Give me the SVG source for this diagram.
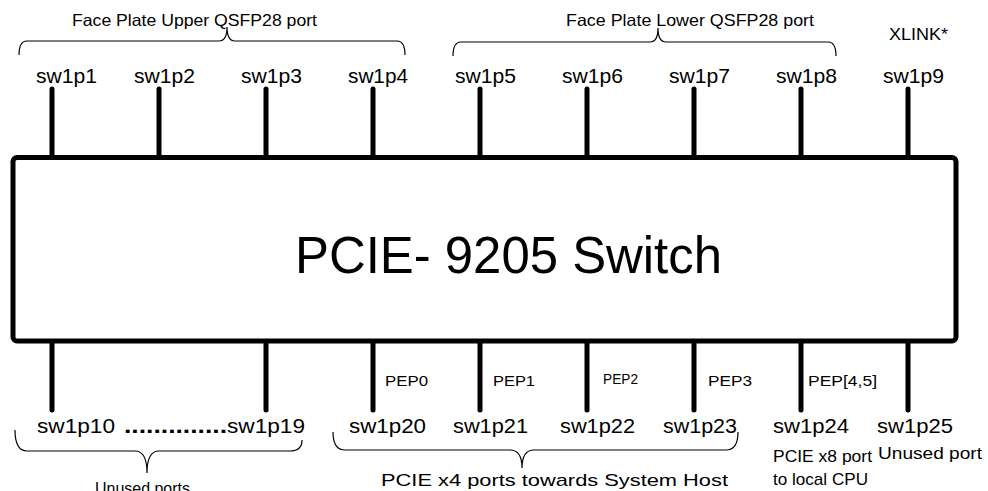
<svg xmlns="http://www.w3.org/2000/svg" width="988" height="491" viewBox="0 0 988 491">
<style>
text{font-family:"Liberation Sans",Arial,sans-serif;fill:#000}
.port{font-size:20.5px}
.sm{font-size:16.5px}
.desc{font-size:17px}
.pep{font-size:15.5px}
.big{font-size:52px}
.pin{stroke:#000;stroke-width:5;stroke-linecap:round;fill:none}
.brace{stroke:#000;stroke-width:1.2;fill:none}
</style>
<rect width="988" height="491" fill="#fff"/>
<g id="connectors">
<line class="pin" x1="52" y1="89" x2="52" y2="157"/>
<line class="pin" x1="159" y1="89" x2="159" y2="157"/>
<line class="pin" x1="266" y1="89" x2="266" y2="157"/>
<line class="pin" x1="373" y1="89" x2="373" y2="157"/>
<line class="pin" x1="480" y1="89" x2="480" y2="157"/>
<line class="pin" x1="587" y1="89" x2="587" y2="157"/>
<line class="pin" x1="694" y1="89" x2="694" y2="157"/>
<line class="pin" x1="801" y1="89" x2="801" y2="157"/>
<line class="pin" x1="908" y1="89" x2="908" y2="157"/>
<line class="pin" x1="52" y1="341" x2="52" y2="410"/>
<line class="pin" x1="266" y1="341" x2="266" y2="410"/>
<line class="pin" x1="373" y1="341" x2="373" y2="410"/>
<line class="pin" x1="480" y1="341" x2="480" y2="410"/>
<line class="pin" x1="587" y1="341" x2="587" y2="410"/>
<line class="pin" x1="694" y1="341" x2="694" y2="410"/>
<line class="pin" x1="801" y1="341" x2="801" y2="410"/>
<line class="pin" x1="908" y1="341" x2="908" y2="410"/>
</g>
<g id="switch">
<rect x="13" y="157.5" width="943" height="183.5" rx="4" fill="#fff" stroke="#000" stroke-width="5"/>
<text class="big" x="295" y="273" textLength="427" lengthAdjust="spacingAndGlyphs">PCIE- 9205 Switch</text>
</g>
<g id="upper-group">
<path class="brace" d="M19,55 Q19,41 27,41 L219,41 Q227,41 227,27 Q227,41 235,41 L397,41 Q405,41 405,55"/>
<text class="sm" x="72" y="26" textLength="245" lengthAdjust="spacingAndGlyphs">Face Plate Upper QSFP28 port</text>
</g>
<g id="lower-group">
<path class="brace" d="M453,56 Q453,42 461,42 L650,42 Q658,42 658,28 Q658,42 666,42 L828,42 Q836,42 836,56"/>
<text class="sm" x="566" y="26" textLength="248" lengthAdjust="spacingAndGlyphs">Face Plate Lower QSFP28 port</text>
</g>
<g id="xlink">
<text class="sm" x="889" y="40" textLength="59" lengthAdjust="spacingAndGlyphs">XLINK*</text>
</g>
<g id="top-ports">
<text class="port" x="36" y="83" textLength="61" lengthAdjust="spacingAndGlyphs">sw1p1</text>
<text class="port" x="134" y="83" textLength="61" lengthAdjust="spacingAndGlyphs">sw1p2</text>
<text class="port" x="241" y="83" textLength="61" lengthAdjust="spacingAndGlyphs">sw1p3</text>
<text class="port" x="348" y="83" textLength="60" lengthAdjust="spacingAndGlyphs">sw1p4</text>
<text class="port" x="455" y="83" textLength="61" lengthAdjust="spacingAndGlyphs">sw1p5</text>
<text class="port" x="562" y="83" textLength="61" lengthAdjust="spacingAndGlyphs">sw1p6</text>
<text class="port" x="669" y="83" textLength="61" lengthAdjust="spacingAndGlyphs">sw1p7</text>
<text class="port" x="776" y="83" textLength="61" lengthAdjust="spacingAndGlyphs">sw1p8</text>
<text class="port" x="883" y="83" textLength="61" lengthAdjust="spacingAndGlyphs">sw1p9</text>
</g>
<g id="unused-group">
<text class="port" y="433"><tspan x="37" textLength="78" lengthAdjust="spacingAndGlyphs">sw1p10</tspan><tspan x="124" font-weight="bold" font-size="22px" textLength="103" lengthAdjust="spacingAndGlyphs">..............</tspan><tspan x="227" textLength="78" lengthAdjust="spacingAndGlyphs">sw1p19</tspan></text>
<path class="brace" d="M15,430 Q15,451 27,451 L135,451 Q147,451 147,473 Q147,451 159,451 L290,451 Q302,451 302,440"/>
<text class="desc" x="95" y="494" textLength="95" lengthAdjust="spacingAndGlyphs">Unused ports</text>
</g>
<g id="pcie-host-group">
<text class="pep" x="385" y="386" textLength="43" lengthAdjust="spacingAndGlyphs">PEP0</text>
<text class="pep" x="493" y="386" textLength="42" lengthAdjust="spacingAndGlyphs">PEP1</text>
<text class="pep" x="603" y="384" font-size="12.5px" textLength="35" lengthAdjust="spacingAndGlyphs">PEP2</text>
<text class="pep" x="708" y="386" textLength="44" lengthAdjust="spacingAndGlyphs">PEP3</text>
<text class="port" x="349" y="433" textLength="77" lengthAdjust="spacingAndGlyphs">sw1p20</text>
<text class="port" x="453" y="433" textLength="75" lengthAdjust="spacingAndGlyphs">sw1p21</text>
<text class="port" x="560" y="433" textLength="75" lengthAdjust="spacingAndGlyphs">sw1p22</text>
<text class="port" x="663" y="433" textLength="74" lengthAdjust="spacingAndGlyphs">sw1p23</text>
<path class="brace" d="M333,432 Q333,450 345,450 L510,450 Q522,450 522,468 Q522,450 534,450 L726,450 Q738,450 738,432"/>
<text class="desc" x="381" y="486" textLength="347" lengthAdjust="spacingAndGlyphs">PCIE x4 ports towards System Host</text>
</g>
<g id="cpu-port">
<text class="pep" x="808" y="386" textLength="69" lengthAdjust="spacingAndGlyphs">PEP[4,5]</text>
<text class="port" x="773" y="433" textLength="76" lengthAdjust="spacingAndGlyphs">sw1p24</text>
<text class="desc" x="773" y="462" textLength="99" lengthAdjust="spacingAndGlyphs">PCIE x8 port</text>
<text class="desc" x="773" y="485" textLength="95" lengthAdjust="spacingAndGlyphs">to local CPU</text>
</g>
<g id="unused-port">
<text class="port" x="877" y="433" textLength="76" lengthAdjust="spacingAndGlyphs">sw1p25</text>
<text class="desc" x="878" y="459" textLength="104" lengthAdjust="spacingAndGlyphs">Unused port</text>
</g>
</svg>
